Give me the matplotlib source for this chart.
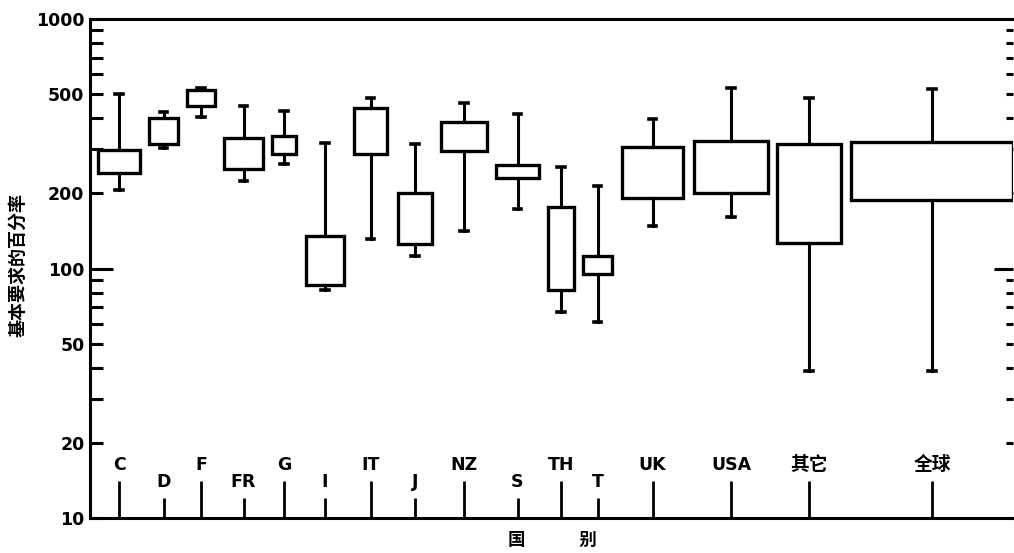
import matplotlib.pyplot as plt
import matplotlib.transforms as mtransforms

plt.rcParams['font.family'] = ['DejaVu Sans', 'Noto Sans CJK SC']
plt.rcParams['font.weight'] = 'bold'

# 数据
countries = ['C', 'D', 'F', 'FR', 'G', 'I', 'IT', 'J', 'NZ', 'S',
             'TH', 'T', 'UK', 'USA', '其它', '全球']
whisker_low = [207, 303, 403, 224, 262, 82, 131, 112, 141, 173, 67, 61, 148, 161, 39, 39]
box_low = [241, 316, 448, 250, 287, 86, 289, 125, 296, 230, 82, 95, 191, 200, 126, 189]
box_high = [298, 400, 519, 333, 341, 135, 438, 200, 388, 259, 177, 112, 308, 325, 315, 322]
whisker_high = [499, 425, 527, 448, 429, 319, 484, 316, 459, 416, 256, 215, 398, 527, 484, 524]

# 布局：位置和宽度（可变宽度箱线图）
positions = [2.9, 7.35, 11.1, 15.35, 19.4, 23.5, 28.05, 32.5, 37.4, 42.75,
             47.1, 50.75, 56.25, 64.1, 71.9, 84.2]
widths = [4.2, 2.9, 2.8, 3.9, 2.4, 3.8, 3.3, 3.4, 4.6, 4.3,
          2.6, 2.9, 6.1, 7.4, 6.4, 16.2]
label_low = [False, True, False, True, False, True, False, True, False, True,
             False, True, False, False, False, False]

stats = []
for name, wl, q1, q3, wh in zip(countries, whisker_low, box_low, box_high, whisker_high):
    stats.append({'label': name, 'whislo': wl, 'q1': q1, 'med': q1,
                  'q3': q3, 'whishi': wh, 'fliers': []})

fig = plt.figure(figsize=(10.14, 5.53), dpi=100)
ax = fig.add_axes([90 / 1014, 1 - 518 / 553, 923 / 1014, 499 / 553])

ax.bxp(stats, positions=positions, widths=widths, capwidths=[0.75] * len(stats),
       patch_artist=True, showfliers=False, manage_ticks=False,
       boxprops=dict(facecolor='white', edgecolor='black', linewidth=2.4, zorder=3),
       whiskerprops=dict(color='black', linewidth=2.2, zorder=3),
       capprops=dict(color='black', linewidth=2.6, zorder=3),
       medianprops=dict(visible=False))

ax.set_yscale('log')
ax.set_ylim(10, 1000)
ax.set_xlim(0, 92.3)

# y 轴刻度
ax.set_yticks([10, 20, 50, 100, 200, 500, 1000])
ax.set_yticklabels(['10', '20', '50', '100', '200', '500', '1000'], fontsize=12.5)
ax.set_yticks([30, 40, 60, 70, 80, 90, 300, 400, 600, 700, 800, 900], minor=True)
ax.yaxis.set_minor_formatter(plt.NullFormatter())
ax.tick_params(axis='y', which='both', direction='in', left=True, right=True,
               width=2.2, length=9.5, pad=4)
for t in ax.yaxis.get_major_ticks() + ax.yaxis.get_minor_ticks():
    t.tick2line.set_markersize(5)
    t.tick1line.set_zorder(1)
    t.tick2line.set_zorder(1)
# 100 处的刻度更长
t100 = ax.yaxis.get_major_ticks()[3]
t100.tick1line.set_markersize(16.5)
t100.tick2line.set_markersize(13.5)

ax.set_xticks([])
for side in ['left', 'bottom', 'top']:
    ax.spines[side].set_linewidth(2.2)
ax.spines['right'].set_visible(False)

# 国家标签及竖线
trans = mtransforms.blended_transform_factory(ax.transData, ax.transAxes)
for name, x, low in zip(countries, positions, label_low):
    top = 0.040 if low else 0.074
    ax.plot([x, x], [0, top], color='black', linewidth=2.0, transform=trans,
            clip_on=False, solid_capstyle='butt')
    ax.text(x, top + 0.033, name, transform=trans, ha='center', va='center',
            fontsize=12.5 if name not in ('其它', '全球') else 13.5)

fig.text(18 / 1014, 1 - 265 / 553, '基本要求的百分率', rotation=90,
         ha='center', va='center', fontsize=13)
fig.text(552 / 1014, 1 - 540 / 553, '国         别', ha='center', va='center',
         fontsize=12.5)

plt.savefig('out.png', dpi=100)
